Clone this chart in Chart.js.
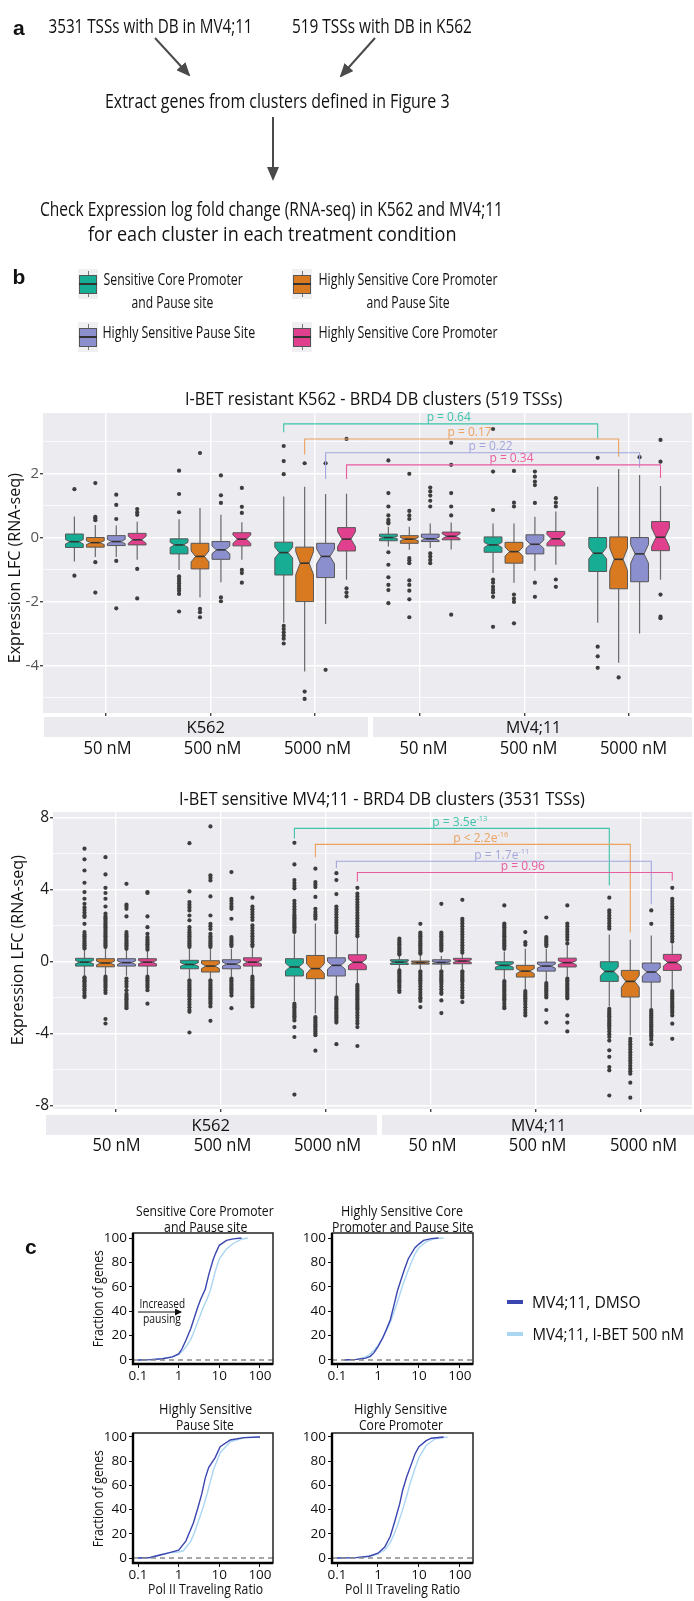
<!DOCTYPE html>
<html>
<head>
<meta charset="utf-8">
<script src="https://cdn.jsdelivr.net/npm/chart.js@4.4.1/dist/chart.umd.min.js"></script>
<style>
html, body { margin: 0; padding: 0; background: #fff; }
#fig { position: relative; width: 694px; height: 1601px; overflow: hidden; font-family: 'Open Sans', sans-serif; color: #111; }
.t { position: absolute; white-space: nowrap; line-height: 1.2; }
canvas { position: absolute; }
.strip { position: absolute; background: #ebebef; }
.ico { position: absolute; }
</style>
</head>
<body>
<div id="fig">
  <svg width="694" height="1601" style="position:absolute;left:0;top:0;z-index:3;pointer-events:none">
    <defs>
      <marker id="ah" markerWidth="7" markerHeight="6" refX="6" refY="3" orient="auto" markerUnits="strokeWidth">
        <path d="M0,0 L7,3 L0,6 z" fill="#4a4a4a"/>
      </marker>
      <marker id="ah2" markerWidth="7" markerHeight="7" refX="6" refY="3.5" orient="auto" markerUnits="userSpaceOnUse">
        <path d="M0,0 L7,3.5 L0,7 z" fill="#111"/>
      </marker>
    </defs>
    <line x1="155" y1="38" x2="189" y2="75" stroke="#4a4a4a" stroke-width="2" marker-end="url(#ah)"/>
    <line x1="375" y1="38" x2="341" y2="76" stroke="#4a4a4a" stroke-width="2" marker-end="url(#ah)"/>
    <line x1="273" y1="117" x2="273" y2="179" stroke="#4a4a4a" stroke-width="2" marker-end="url(#ah)"/>
    <line x1="138" y1="1312" x2="181" y2="1312" stroke="#111" stroke-width="1" marker-end="url(#ah2)"/>
  </svg>
</div>
<script>
// ---- panel b data: expression LFC box plots ----
const doses = ['50 nM', '500 nM', '5000 nM', '50 nM', '500 nM', '5000 nM'];
const cellLines = ['K562', 'MV4;11'];
const clusters = ['Sensitive Core Promoter and Pause site', 'Highly Sensitive Core Promoter and Pause Site',
                  'Highly Sensitive Pause Site', 'Highly Sensitive Core Promoter'];

// box = [lower whisker, q1, median, q3, upper whisker], one per dose group
const topTealBox = [[-0.74,-0.30,-0.12,0.12,0.67],[-1.0,-0.50,-0.22,-0.03,0.58],[-2.65,-1.16,-0.46,-0.135,1.29],
                    [-0.27,-0.09,0.01,0.115,0.35],[-1.1,-0.45,-0.22,0.03,0.45],[-2.65,-1.05,-0.48,0.01,1.6]];
const topTealNotch = [0.07,0.08,0.17,0.035,0.08,0.18];
const topTealOut = [[1.52,-1.18],[2.1,1.37,0.8,-1.2,-1.28,-1.35,-1.42,-1.5,-1.58,-1.65,-1.75,-2.3],
                    [2.87,2.4,1.99,-2.75,-2.85,-2.95,-3.05,-3.15,-3.3],
                    [2.42,1.4,0.98,0.7,0.56,0.49,0.45,-0.45,-0.84,-1.23,-1.47,-1.63,-2.04],
                    [3.4,2.07,0.87,-1.3,-1.4,-1.53,-1.62,-1.71,-1.84,-2.78],[2.5,-3.4,-3.7,-4.06]];

const topOrangeBox = [[-0.6,-0.29,-0.15,0.01,0.4],[-1.86,-0.97,-0.58,-0.17,0.93],[-4.17,-1.99,-0.79,-0.29,1.6],
                      [-0.37,-0.17,-0.04,0.07,0.35],[-1.4,-0.79,-0.43,-0.14,0.45],[-3.9,-1.59,-0.67,0.03,2.15]];
const topOrangeNotch = [0.06,0.17,0.36,0.05,0.14,0.35];
const topOrangeOut = [[1.71,0.66,0.61,0.55,-0.76,-1.71],[2.65,-2.22,-2.32,-2.48],[2.33,-4.8,-5.03],
                      [2.0,0.84,0.7,0.59,-0.63,-0.7,-0.79,-1.33,-1.47,-1.65,-1.92,-2.48],
                      [2.09,1.1,0.98,-1.77,-1.9,-2.0,-2.67],[-4.36]];

const topLavBox = [[-0.6,-0.24,-0.115,0.07,0.39],[-1.39,-0.67,-0.375,-0.115,0.72],[-2.69,-1.24,-0.58,-0.17,1.37],
                   [-0.32,-0.115,-0.03,0.115,0.45],[-1.03,-0.5,-0.2,0.095,0.66],[-2.99,-1.37,-0.5,0.01,1.96]];
const topLavNotch = [0.066,0.12,0.23,0.05,0.13,0.29];
const topLavOut = [[1.35,1.03,0.59,-0.72,-2.2],[1.95,1.33,1.09,-1.86,-1.98],[2.33,-4.12],
                   [1.57,1.45,1.32,1.16,0.98,-0.48,-0.58,-0.69,-0.79],[2.07,1.91,1.76,1.65,1.09,-1.4,-1.84],[2.52]];

const topPinkBox = [[-0.68,-0.22,-0.06,0.14,0.5],[-0.68,-0.25,-0.04,0.16,0.49],[-1.31,-0.41,-0.04,0.32,1.38],
                    [-0.36,-0.06,0.05,0.18,0.48],[-0.84,-0.25,-0.03,0.2,0.82],[-1.31,-0.4,0.02,0.51,1.62]];
const topPinkNotch = [0.11,0.13,0.23,0.076,0.14,0.29];
const topPinkOut = [[0.9,0.8,0.72,-0.97,-1.89],[1.56,0.97,0.78,-1.0,-1.1,-1.4],[3.09,-1.58,-1.71,-1.83],
                    [2.97,2.28,1.4,0.98,0.7,-2.4],[1.24,1.1,0.98,-1.3,-1.53],[3.06,2.38,-1.77,-2.46,-2.51]];

const botTealBox = [[-0.8,-0.26,-0.04,0.17,0.65],[-0.95,-0.41,-0.17,0.06,0.7],[-2.2,-0.81,-0.31,0.15,1.5],
                    [-0.45,-0.17,-0.04,0.09,0.3],[-1.0,-0.46,-0.22,-0.02,0.55],[-2.5,-1.11,-0.56,-0.02,1.5]];
const botTealNotch = [0.09,0.10,0.21,0.06,0.10,0.24];
const botTealOut = [
  [6.26,5.67,5.05,4.37,3.85,3.48,3.2,3.0,2.85,2.7,2.55,2.47,2.09,1.63,1.5,1.4,1.3,1.2,1.1,1.0,0.9,0.8,0.72,
   -0.88,-0.95,-1.05,-1.12,-1.2,-1.3,-1.38,-1.5,-1.6,-1.75,-1.9,-1.98],
  [6.57,3.89,3.3,3.15,3.0,2.83,2.55,2.28,1.9,1.75,1.62,1.5,1.4,1.3,1.2,1.1,1.0,0.9,0.8,
   -1.05,-1.15,-1.25,-1.35,-1.45,-1.55,-1.65,-1.75,-1.85,-1.95,-2.1,-2.25,-2.4,-2.55,-2.7,-2.8,-3.95],
  [6.59,5.39,4.52,4.35,4.2,4.06,3.37,3.2,3.05,2.9,2.75,2.6,2.5,2.4,2.3,2.2,2.1,2.0,1.9,1.8,1.7,1.63,
   -2.35,-2.45,-2.55,-2.65,-2.75,-2.85,-2.95,-3.05,-3.15,-3.28,-3.65,-4.2,-7.4],
  [1.26,1.15,1.05,0.95,0.85,0.75,0.65,0.55,0.45,0.38,-0.5,-0.6,-0.7,-0.8,-0.9,-1.0,-1.1,-1.2,-1.32,-1.45,-1.6,-1.7],
  [3.11,2.1,2.0,1.9,1.8,1.7,1.6,1.5,1.4,1.3,1.2,1.1,1.0,0.9,0.8,0.7,
   -1.1,-1.2,-1.3,-1.4,-1.5,-1.6,-1.7,-1.8,-1.9,-2.0,-2.1,-2.2,-2.35,-2.5,-2.6],
  [3.54,2.83,2.7,2.55,2.4,2.25,2.1,1.95,1.82,
   -2.63,-2.75,-2.85,-2.95,-3.05,-3.15,-3.25,-3.35,-3.45,-3.55,-3.65,-3.75,-3.9,-4.05,-4.2,-4.4,-4.94,-5.3,-5.87,-6.05,-7.45]];

const botOrangeBox = [[-0.75,-0.30,-0.09,0.15,0.75],[-0.95,-0.59,-0.26,0.04,0.7],[-2.9,-0.96,-0.40,0.33,2.1],
                      [-0.45,-0.15,-0.07,0.02,0.3],[-1.55,-0.87,-0.54,-0.22,0.7],[-4.1,-1.98,-1.11,-0.50,1.2]];
const botOrangeNotch = [0.10,0.14,0.28,0.04,0.14,0.33];
const botOrangeOut = [
  [5.79,4.83,4.09,3.8,3.48,3.05,2.65,2.5,2.4,2.3,2.2,2.1,2.0,1.9,1.8,1.7,1.6,1.5,1.4,1.3,1.2,1.1,1.0,0.9,0.8,
   -0.85,-0.95,-1.05,-1.15,-1.25,-1.35,-1.45,-1.6,-1.75,-3.2,-3.45],
  [7.5,4.78,4.65,4.5,3.61,2.55,2.09,1.95,1.8,1.53,1.4,1.3,1.2,1.1,1.0,0.9,0.8,
   -1.05,-1.15,-1.25,-1.35,-1.45,-1.55,-1.65,-1.75,-1.85,-1.95,-2.05,-2.15,-2.25,-2.35,-2.5,-3.3],
  [5.15,4.41,4.27,4.13,3.58,2.92,2.75,2.6,2.5,2.37,-3.1,-3.2,-3.3,-3.4,-3.5,-3.6,-3.7,-3.8,-3.9,-4.0,-4.1,-4.96],
  [2.09,1.6,1.5,1.4,1.3,1.2,1.1,1.0,0.9,0.8,0.7,0.6,0.5,0.42,
   -0.55,-0.65,-0.75,-0.85,-0.95,-1.05,-1.15,-1.25,-1.4,-1.55,-1.7,-1.85,-2.0,-2.07,-2.2,-2.54],
  [1.63,1.07,0.92,-1.65,-1.75,-1.85,-1.95,-2.05,-2.15,-2.25,-2.4,-2.55,-2.7,-2.85,-3.0],
  [-4.3,-4.45,-4.6,-4.75,-4.9,-5.05,-5.2,-5.35,-5.5,-5.65,-5.8,-5.95,-6.1,-6.24,-6.74,-7.57]];

const botLavBox = [[-0.8,-0.26,-0.07,0.15,0.6],[-0.85,-0.41,-0.15,0.09,0.7],[-1.9,-0.81,-0.22,0.2,1.45],
                   [-0.45,-0.15,-0.06,0.09,0.3],[-1.1,-0.54,-0.26,-0.04,0.7],[-2.6,-1.15,-0.59,-0.09,1.44]];
const botLavNotch = [0.09,0.11,0.22,0.05,0.11,0.23];
const botLavOut = [
  [4.31,3.16,3.05,2.92,2.5,1.63,1.5,1.4,1.3,1.2,1.1,1.0,0.9,0.8,0.7,
   -0.95,-1.1,-1.25,-1.4,-1.6,-1.8,-1.9,-2.0,-2.1,-2.2,-2.3,-2.4,-2.5,-2.6],
  [4.96,3.48,3.35,3.2,3.05,2.92,2.37,1.35,1.25,1.15,1.05,0.95,0.85,
   -0.95,-1.05,-1.15,-1.25,-1.35,-1.45,-1.55,-1.65,-1.75,-1.9,-2.6],
  [4.9,4.52,3.74,3.05,2.9,2.75,2.6,2.45,2.3,2.15,2.0,1.85,1.7,1.6,
   -2.0,-2.1,-2.2,-2.3,-2.4,-2.5,-2.6,-2.7,-2.8,-2.9,-3.0,-3.1,-3.2,-3.3,-3.4,-4.6],
  [3.2,1.6,1.5,1.4,1.3,1.2,1.1,1.0,0.9,0.8,0.7,0.6,
   -0.55,-0.65,-0.75,-0.85,-0.95,-1.05,-1.15,-1.25,-1.4,-1.55,-1.7,-1.8,-2.17,-2.87],
  [2.44,1.35,1.25,1.15,1.05,0.95,0.85,-1.2,-1.3,-1.4,-1.5,-1.6,-1.7,-1.8,-1.9,-2.0,-2.7,-3.4],
  [2.83,2.09,-2.7,-2.8,-2.9,-3.0,-3.1,-3.2,-3.3,-3.4,-3.5,-3.6,-3.7,-3.8,-3.9,-4.0,-4.1,-4.2,-4.35,-4.6]];

const botPinkBox = [[-0.75,-0.26,-0.04,0.15,0.55],[-0.75,-0.26,-0.04,0.2,0.75],[-1.2,-0.46,-0.05,0.37,1.3],
                    [-0.45,-0.13,0.02,0.17,0.4],[-0.85,-0.31,-0.07,0.18,0.9],[-1.55,-0.50,-0.06,0.39,0.95]];
const botPinkNotch = [0.09,0.10,0.18,0.07,0.11,0.20];
const botPinkOut = [
  [3.85,3.8,2.5,1.9,1.53,1.35,1.25,1.15,1.05,0.95,0.85,0.75,0.65,
   -0.85,-0.95,-1.05,-1.15,-1.25,-1.35,-1.45,-1.6,-2.35],
  [3.54,3.05,2.9,2.75,2.6,2.45,2.3,2.0,1.85,1.7,1.55,1.4,1.25,1.1,0.95,0.85,
   -0.85,-0.95,-1.05,-1.15,-1.25,-1.35,-1.45,-1.55,-1.65,-1.75,-1.85,-1.95,-2.05,-2.15,-2.25,-2.35,-2.5],
  [4.09,3.76,3.6,3.45,3.3,3.15,3.0,2.85,2.7,2.55,2.4,2.25,2.1,1.95,1.8,1.65,1.5,1.4,
   -1.3,-1.4,-1.5,-1.6,-1.7,-1.8,-1.9,-2.0,-2.1,-2.2,-2.3,-2.4,-2.5,-2.6,-2.7,-2.85,-3.0,-3.15,-3.3,-3.45,-3.65,-4.7],
  [3.42,2.37,2.25,2.1,1.95,1.8,1.65,1.5,1.35,1.2,1.05,0.9,0.75,0.6,0.48,
   -0.55,-0.65,-0.75,-0.85,-0.95,-1.05,-1.15,-1.3,-1.45,-1.6,-1.75,-1.9,-2.0,-2.26],
  [3.11,2.1,1.95,1.8,1.65,1.5,1.35,1.2,1.0,
   -0.95,-1.05,-1.15,-1.25,-1.35,-1.45,-1.55,-1.65,-1.75,-1.85,-1.95,-2.05,-3.0,-3.4,-3.89],
  [4.09,3.48,3.35,3.2,3.05,2.9,2.75,2.6,2.45,2.3,2.15,2.0,1.85,1.7,1.55,1.4,1.25,1.1,
   -1.65,-1.75,-1.85,-1.95,-2.05,-2.15,-2.25,-2.35,-2.45,-2.55,-2.65,-2.75,-2.85,-3.0,-3.46,-4.3]];

// 5000 nM K562 vs 5000 nM MV4;11 comparisons (group 3 vs group 6)
const pairGroups = [3, 6];
const topPairLevel = [3.56, 3.09, 2.66, 2.28];
const topPairLeftEnd = [3.3, 2.6, 1.84, 1.84];
const topPairRightEnd = [3.11, 2.53, 2.19, 1.87];
const topPairText = ['p = 0.64', 'p = 0.17', 'p = 0.22', 'p = 0.34'];
const topPairSup = ['', '', '', ''];
const botPairLevel = [7.39, 6.5, 5.56, 4.94];
const botPairLeftEnd = [6.83, 5.78, 5.17, 4.44];
const botPairRightEnd = [4.22, 1.61, 3.17, 4.5];
const botPairText = ['p = 3.5e', 'p < 2.2e', 'p = 1.7e', 'p = 0.96'];
const botPairSup = ['-13', '-16', '-11', ''];

const topYLabels = [-4, -2, 0, 2];
const topYMinor = [-5, -3, -1, 1, 3];
const botYLabels = [-8, -4, 0, 4, 8];
const botYMinor = [-6, -2, 2, 6];

// ---- panel c data: cumulative Pol II traveling ratio ----
const cXTicks = [0.1, 1, 10, 100];
const cYTicks = [0, 20, 40, 60, 80, 100];
const c1DmsoX = [0.1,0.2,0.4,0.7,1,1.2,1.5,2,2.5,3,3.5,4.5,5.5,7,8,10,15,22,35];
const c1DmsoY = [0,0.3,1,2.5,5,9,16,26,36,44,50,58,70,82,87,94,98,99.3,100];
const c1IbetX = [0.1,0.2,0.4,0.7,1,1.3,1.6,2,2.5,3,4,5,6,8,10,15,22,35,50];
const c1IbetY = [0,0.3,1,2.5,4.5,8,12,17,25,32,43,50,57,73,83,91,95.5,99,100];
const c2DmsoX = [0.15,0.3,0.5,0.65,0.8,1,1.3,1.6,2,2.5,3,3.5,4.5,5.5,8,10,13,20,30];
const c2DmsoY = [0,0.5,1.5,3,6,11,18,25,33,46,57,64,75,83,92,95,98,99.5,100];
const c2IbetX = [0.15,0.3,0.45,0.6,0.8,1,1.3,1.6,2,2.5,3,4,5,6,8,10,15,25,40];
const c2IbetY = [0,0.5,2,4,8,12,18,24,31,40,48,61,70,77,87,92,97,99.5,100];
const c3DmsoX = [0.1,0.2,0.35,0.6,1,1.5,2,2.3,3,3.7,4.5,5.5,7.9,10.5,18.6,40,100];
const c3DmsoY = [0,0.5,2.5,4.5,6.5,14,24,29,42,53,66,75,83,92,97.5,99.5,100];
const c3IbetX = [0.1,0.2,0.35,0.6,1,1.3,2,2.5,3.1,4,5,6,7.2,10.5,18.6,40,100];
const c3IbetY = [0,0.5,2.5,4.5,5,6,14,22,31,42,53,63,73,87,96,99.4,100];
const c4DmsoX = [0.1,0.3,0.6,0.75,1,1.46,2,2.5,3.4,4,5,6.6,8,10,15,20,40];
const c4DmsoY = [0,0.3,1.5,2.5,4,9,18,29,45,56,67,78,86,92,97,99,100];
const c4IbetX = [0.1,0.3,0.6,0.8,1,1.5,2,2.5,3,4,5,6,8,10,15,25,50];
const c4IbetY = [0,0.3,1.5,2.5,3.5,7,13,20,27,40,51,61,74,83,93,98.5,100];

// ---- styles ----
const clusterColors = ['#17ad95', '#d97a20', '#8b8fce', '#e0408d'];
const bracketColors = ['#3fc3aa', '#eca15c', '#a3a6dd', '#e95d9f'];
const dodge = [-0.3, -0.1, 0.1, 0.3];
const halfW = 0.085;
const FONT = "'Open Sans', sans-serif";
Chart.defaults.font.family = FONT;

const fig = document.getElementById('fig');

// text helper: (x, y) = centre, w = width to squeeze the text into
function label(txt, x, y, size, o = {}) {
  const d = document.createElement('div');
  d.className = 't';
  d.textContent = txt;
  d.style.fontSize = size + 'px';
  if (o.bold) d.style.fontWeight = 'bold';
  if (o.family) d.style.fontFamily = o.family;
  if (o.color) d.style.color = o.color;
  fig.appendChild(d);
  const w = d.offsetWidth, h = d.offsetHeight;
  const sx = o.w ? o.w / w : 1;
  d.style.left = (x - w / 2) + 'px';
  d.style.top = (y - h / 2) + 'px';
  d.style.transform = (o.rot ? 'rotate(-90deg) ' : '') + 'scaleX(' + sx + ')';
  d.style.zIndex = 4;
}
function box(cls, l, t, w, h, bg, extra) {
  const d = document.createElement('div');
  d.className = cls;
  Object.assign(d.style, { left: l + 'px', top: t + 'px', width: w + 'px', height: h + 'px', background: bg }, extra || {});
  fig.appendChild(d);
  return d;
}

// ---- panel a ----
label('a', 19, 27, 21, { bold: true, family: "'Liberation Sans', Arial, sans-serif" });
label('3531 TSSs with DB in MV4;11', 150, 25, 20.5, { w: 204 });
label('519 TSSs with DB in K562', 382, 25, 20.5, { w: 180 });
label('Extract genes from clusters defined in Figure 3', 277.5, 100, 20.5, { w: 345 });
label('Check Expression log fold change (RNA-seq) in K562 and MV4;11', 271.5, 208, 20.5, { w: 463 });
label('for each cluster in each treatment condition', 272.5, 233, 20.5, { w: 369 });

// ---- panel b legend ----
label('b', 19, 276, 21, { bold: true, family: "'Liberation Sans', Arial, sans-serif" });
function legendIcon(x, y, col) {
  box('ico', x, y, 20, 30, '#f0f0f2');
  box('ico', x + 9.5, y + 2, 1, 26, '#777');
  box('ico', x + 1, y + 6, 16, 17, col, { border: '1px solid #555' });
  box('ico', x + 1, y + 14, 18, 1.5, '#333');
}
legendIcon(78, 269, clusterColors[0]);
legendIcon(292, 269, clusterColors[1]);
legendIcon(78, 322, clusterColors[2]);
legendIcon(292, 322, clusterColors[3]);
label('Sensitive Core Promoter', 172.5, 279, 17, { w: 139 });
label('and Pause site', 172, 302, 17, { w: 82 });
label('Highly Sensitive Pause Site', 178.5, 332, 17, { w: 153 });
label('Highly Sensitive Core Promoter', 407.5, 279, 17, { w: 179 });
label('and Pause Site', 407.5, 302, 17, { w: 83 });
label('Highly Sensitive Core Promoter', 407.5, 332, 17, { w: 179 });

// ---- box plot plugins ----
const bgPlugin = { id: 'bg', beforeDraw(chart, args, opts) {
  const { ctx, chartArea: a } = chart;
  ctx.save(); ctx.fillStyle = opts.color || '#ebebf0';
  ctx.fillRect(a.left, a.top, a.right - a.left, a.bottom - a.top); ctx.restore();
} };

function boxPlugin(boxes, notches) {
  return { id: 'boxes', beforeDatasetsDraw(chart) {
    const { ctx, scales: { x, y } } = chart;
    ctx.save();
    boxes.forEach((series, c) => series.forEach((b, g) => {
      const [lo, q1, med, q3, hi] = b;
      const xc = g + 1 + dodge[c];
      const xl = x.getPixelForValue(xc - halfW), xr = x.getPixelForValue(xc + halfW), xm = x.getPixelForValue(xc);
      const ind = (xr - xl) * 0.25;
      const n = notches[c][g];
      const y1 = y.getPixelForValue(q1), y3 = y.getPixelForValue(q3), ym = y.getPixelForValue(med);
      const nu = y.getPixelForValue(med + n), nl = y.getPixelForValue(med - n);
      ctx.strokeStyle = '#6a6a6a'; ctx.lineWidth = 1.2;
      ctx.beginPath();
      ctx.moveTo(xm, y3); ctx.lineTo(xm, y.getPixelForValue(hi));
      ctx.moveTo(xm, y1); ctx.lineTo(xm, y.getPixelForValue(lo));
      ctx.stroke();
      ctx.beginPath();
      ctx.moveTo(xl, y3); ctx.lineTo(xl, nu); ctx.lineTo(xl + ind, ym); ctx.lineTo(xl, nl); ctx.lineTo(xl, y1);
      ctx.lineTo(xr, y1); ctx.lineTo(xr, nl); ctx.lineTo(xr - ind, ym); ctx.lineTo(xr, nu); ctx.lineTo(xr, y3);
      ctx.closePath();
      ctx.fillStyle = clusterColors[c]; ctx.fill();
      ctx.strokeStyle = '#575757'; ctx.lineWidth = 1; ctx.stroke();
      ctx.beginPath(); ctx.moveTo(xl + ind, ym); ctx.lineTo(xr - ind, ym);
      ctx.strokeStyle = '#333'; ctx.lineWidth = 1.6; ctx.stroke();
    }));
    ctx.restore();
  } };
}

function bracketPlugin(level, leftEnd, rightEnd, texts, sups) {
  return { id: 'brackets', afterDatasetsDraw(chart) {
    const { ctx, scales: { x, y } } = chart;
    ctx.save();
    level.forEach((lv, c) => {
      const xL = x.getPixelForValue(pairGroups[0] + dodge[c]);
      const xR = x.getPixelForValue(pairGroups[1] + dodge[c]);
      const yy = y.getPixelForValue(lv);
      ctx.strokeStyle = bracketColors[c]; ctx.lineWidth = 1.1;
      ctx.beginPath();
      ctx.moveTo(xL, y.getPixelForValue(leftEnd[c])); ctx.lineTo(xL, yy);
      ctx.lineTo(xR, yy); ctx.lineTo(xR, y.getPixelForValue(rightEnd[c]));
      ctx.stroke();
      ctx.fillStyle = bracketColors[c];
      ctx.font = '12px ' + FONT;
      ctx.textBaseline = 'alphabetic';
      const w1 = ctx.measureText(texts[c]).width;
      ctx.font = '7.5px ' + FONT;
      const w2 = sups[c] ? ctx.measureText(sups[c]).width : 0;
      const sx = (xL + xR) / 2 + 8 - (w1 + w2) / 2;
      ctx.font = '12px ' + FONT; ctx.textAlign = 'left';
      ctx.fillText(texts[c], sx, yy - 2.5);
      if (sups[c]) { ctx.font = '7.5px ' + FONT; ctx.fillText(sups[c], sx + w1, yy - 7.5); }
    });
    ctx.restore();
  } };
}

function boxChart(id, top, height, padRight, yAxisW, xMax, yMin, yMax, yLabels, yMinor, tickFont, tickColor,
                  boxes, notches, outs, brackets) {
  const cv = document.createElement('canvas');
  cv.id = id; cv.width = 694; cv.height = height;
  Object.assign(cv.style, { left: '0px', top: top + 'px', width: '694px', height: height + 'px' });
  fig.appendChild(cv);
  const yTicks = yLabels.concat(yMinor).sort((a, b) => a - b);
  const datasets = outs.map((series, c) => ({
    data: series.flatMap((vals, g) => vals.map(v => ({ x: g + 1 + dodge[c], y: v }))),
    pointRadius: 2.1, pointBackgroundColor: '#3d3d3d', pointBorderWidth: 0, pointHoverRadius: 2.1
  }));
  return new Chart(cv, {
    type: 'scatter',
    data: { datasets },
    options: {
      responsive: false, animation: false, events: [],
      layout: { padding: { top: 12, right: padRight, bottom: 0, left: 0 } },
      plugins: { legend: { display: false }, tooltip: { enabled: false }, bg: { color: '#ebebf0' } },
      scales: {
        x: {
          type: 'linear', min: 0.4, max: xMax,
          afterBuildTicks: s => { s.ticks = [1, 2, 3, 4, 5, 6].map(v => ({ value: v })); },
          ticks: { display: false },
          grid: { color: '#ffffff', lineWidth: 1.4, drawTicks: true, tickLength: 3, tickColor: '#444' },
          border: { display: false },
          afterFit: s => { s.height = 12; }
        },
        y: {
          min: yMin, max: yMax,
          afterBuildTicks: s => { s.ticks = yTicks.map(v => ({ value: v })); },
          ticks: { callback: v => (yLabels.includes(v) ? String(v) : ''), color: tickColor,
                   font: { size: tickFont }, padding: 1, autoSkip: false },
          grid: {
            color: '#ffffff',
            lineWidth: ctx => (ctx.tick && yLabels.includes(ctx.tick.value) ? 1.4 : 0.7),
            tickColor: ctx => (ctx.tick && yLabels.includes(ctx.tick.value) ? '#444' : 'rgba(0,0,0,0)'),
            drawTicks: true, tickLength: 3
          },
          border: { display: false },
          afterFit: s => { s.width = yAxisW; }
        }
      }
    },
    plugins: [bgPlugin, boxPlugin(boxes, notches), brackets]
  });
}

// top: I-BET resistant K562
label('I-BET resistant K562 - BRD4 DB clusters (519 TSSs)', 373.5, 398, 19, { w: 377 });
boxChart('topBox', 401, 324, 2, 43, 6.6, -5.47, 3.9, topYLabels, topYMinor, 15, '#555',
  [topTealBox, topOrangeBox, topLavBox, topPinkBox],
  [topTealNotch, topOrangeNotch, topLavNotch, topPinkNotch],
  [topTealOut, topOrangeOut, topLavOut, topPinkOut],
  bracketPlugin(topPairLevel, topPairLeftEnd, topPairRightEnd, topPairText, topPairSup));
label('Expression LFC (RNA-seq)', 14, 568, 17, { w: 190, rot: true });
box('strip', 44, 717, 324, 20, '#ebebef');
box('strip', 373, 717, 319, 20, '#ebebef');
label(cellLines[0], 206, 727, 17, { w: 39 });
label(cellLines[1], 533, 727, 17, { w: 55 });
[107, 212, 317, 423, 528, 633].forEach((cx, i) => label(doses[i], cx, 747, 17.5, { w: doses[i].length * 9.6 }));

// bottom: I-BET sensitive MV4;11
label('I-BET sensitive MV4;11 - BRD4 DB clusters (3531 TSSs)', 382, 798, 19, { w: 406 });
boxChart('botBox', 800, 321, 0, 53, 6.487, -8.2, 8.3, botYLabels, botYMinor, 15.5, '#1a1a1a',
  [botTealBox, botOrangeBox, botLavBox, botPinkBox],
  [botTealNotch, botOrangeNotch, botLavNotch, botPinkNotch],
  [botTealOut, botOrangeOut, botLavOut, botPinkOut],
  bracketPlugin(botPairLevel, botPairLeftEnd, botPairRightEnd, botPairText, botPairSup));
label('Expression LFC (RNA-seq)', 17, 950, 17, { w: 190, rot: true });
box('strip', 46, 1115, 331, 20, '#ebebef');
box('strip', 382, 1115, 320, 20, '#ebebef');
label(cellLines[0], 211, 1125, 17, { w: 39 });
label(cellLines[1], 538, 1125, 17, { w: 55 });
[116, 222, 327, 432, 537, 643].forEach((cx, i) => label(doses[i], cx, 1144, 17.5, { w: doses[i].length * 9.6 }));

// ---- panel c ----
const framePlugin = { id: 'frame', afterDraw(chart) {
  const { ctx, chartArea: a, scales: { y } } = chart;
  ctx.save();
  const y0 = y.getPixelForValue(0);
  ctx.strokeStyle = '#8a8a8a'; ctx.lineWidth = 1.4; ctx.setLineDash([5, 4]);
  ctx.beginPath(); ctx.moveTo(a.left, y0); ctx.lineTo(a.right, y0); ctx.stroke();
  ctx.setLineDash([]);
  ctx.strokeStyle = '#222'; ctx.lineWidth = 1.5;
  ctx.strokeRect(a.left, a.top, a.right - a.left, a.bottom - a.top);
  ctx.strokeStyle = '#000'; ctx.lineWidth = 2.4;
  ctx.beginPath(); ctx.moveTo(a.left, a.top); ctx.lineTo(a.left, a.bottom); ctx.lineTo(a.right, a.bottom); ctx.stroke();
  ctx.restore();
} };

function cdfChart(id, left, top, w, h, yMin, yMax, dX, dY, iX, iY) {
  const cv = document.createElement('canvas');
  const W = 50 + w + 8, H = 12 + h + 22;
  cv.id = id; cv.width = W; cv.height = H;
  Object.assign(cv.style, { left: (left - 50) + 'px', top: (top - 12) + 'px', width: W + 'px', height: H + 'px' });
  fig.appendChild(cv);
  const zip = (xs, ys) => xs.map((v, i) => ({ x: v, y: ys[i] }));
  return new Chart(cv, {
    type: 'scatter',
    data: { datasets: [
      { data: zip(dX, dY), showLine: true, borderColor: '#3a45b0', borderWidth: 1.4, pointRadius: 0 },
      { data: zip(iX, iY), showLine: true, borderColor: '#aad6f2', borderWidth: 1.4, pointRadius: 0 }
    ] },
    options: {
      responsive: false, animation: false, events: [],
      layout: { padding: { top: 12, right: 8, bottom: 0, left: 0 } },
      plugins: { legend: { display: false }, tooltip: { enabled: false } },
      scales: {
        x: {
          type: 'logarithmic', min: 0.0753, max: 209,
          afterBuildTicks: s => { s.ticks = cXTicks.map(v => ({ value: v })); },
          ticks: { callback: v => String(v), color: '#111', font: { size: 13.5 }, padding: 0, maxRotation: 0, autoSkip: false },
          grid: { drawOnChartArea: false, drawTicks: true, tickLength: 4, tickColor: '#111', lineWidth: 1 },
          border: { display: false },
          afterFit: s => { s.height = 22; }
        },
        y: {
          min: yMin, max: yMax,
          afterBuildTicks: s => { s.ticks = cYTicks.map(v => ({ value: v })); },
          ticks: { callback: v => String(v), color: '#111', font: { size: 13.5 }, padding: 2, autoSkip: false },
          grid: { drawOnChartArea: false, drawTicks: true, tickLength: 4, tickColor: '#111', lineWidth: 1 },
          border: { display: false },
          afterFit: s => { s.width = 50; }
        }
      }
    },
    plugins: [framePlugin]
  });
}

label('c', 31, 1246, 21, { bold: true, family: "'Liberation Sans', Arial, sans-serif" });
cdfChart('c1', 133, 1233, 140, 131, -3.28, 104.1, c1DmsoX, c1DmsoY, c1IbetX, c1IbetY);
cdfChart('c2', 332, 1233, 141, 131, -3.28, 104.1, c2DmsoX, c2DmsoY, c2IbetX, c2IbetY);
cdfChart('c3', 133, 1433, 140, 130, -4.1, 103.3, c3DmsoX, c3DmsoY, c3IbetX, c3IbetY);
cdfChart('c4', 332, 1433, 141, 130, -4.1, 103.3, c4DmsoX, c4DmsoY, c4IbetX, c4IbetY);

label('Sensitive Core Promoter', 205, 1210, 15, { w: 138 });
label('and Pause site', 205, 1226, 15, { w: 83 });
label('Highly Sensitive Core', 402, 1210, 15, { w: 122 });
label('Promoter and Pause Site', 402, 1226, 15, { w: 141 });
label('Highly Sensitive', 205, 1408, 15, { w: 93 });
label('Pause Site', 205, 1424, 15, { w: 58 });
label('Highly Sensitive', 400, 1408, 15, { w: 93 });
label('Core Promoter', 401, 1424, 15, { w: 84 });
label('Fraction of genes', 98, 1298, 14.5, { w: 97, rot: true });
label('Fraction of genes', 98, 1498, 14.5, { w: 97, rot: true });
label('Pol II Traveling Ratio', 205, 1588, 15, { w: 115 });
label('Pol II Traveling Ratio', 402, 1588, 15, { w: 115 });
label('Increased', 162, 1304, 12, { w: 46 });
label('pausing', 162, 1319, 12, { w: 38 });

box('ico', 507, 1300, 16, 3.5, '#3a45b0');
box('ico', 507, 1332, 16, 3.5, '#aad6f2');
label('MV4;11, DMSO', 586.5, 1302, 16.5, { w: 109 });
label('MV4;11, I-BET 500 nM', 608, 1334, 16.5, { w: 152 });
</script>
</body>
</html>
